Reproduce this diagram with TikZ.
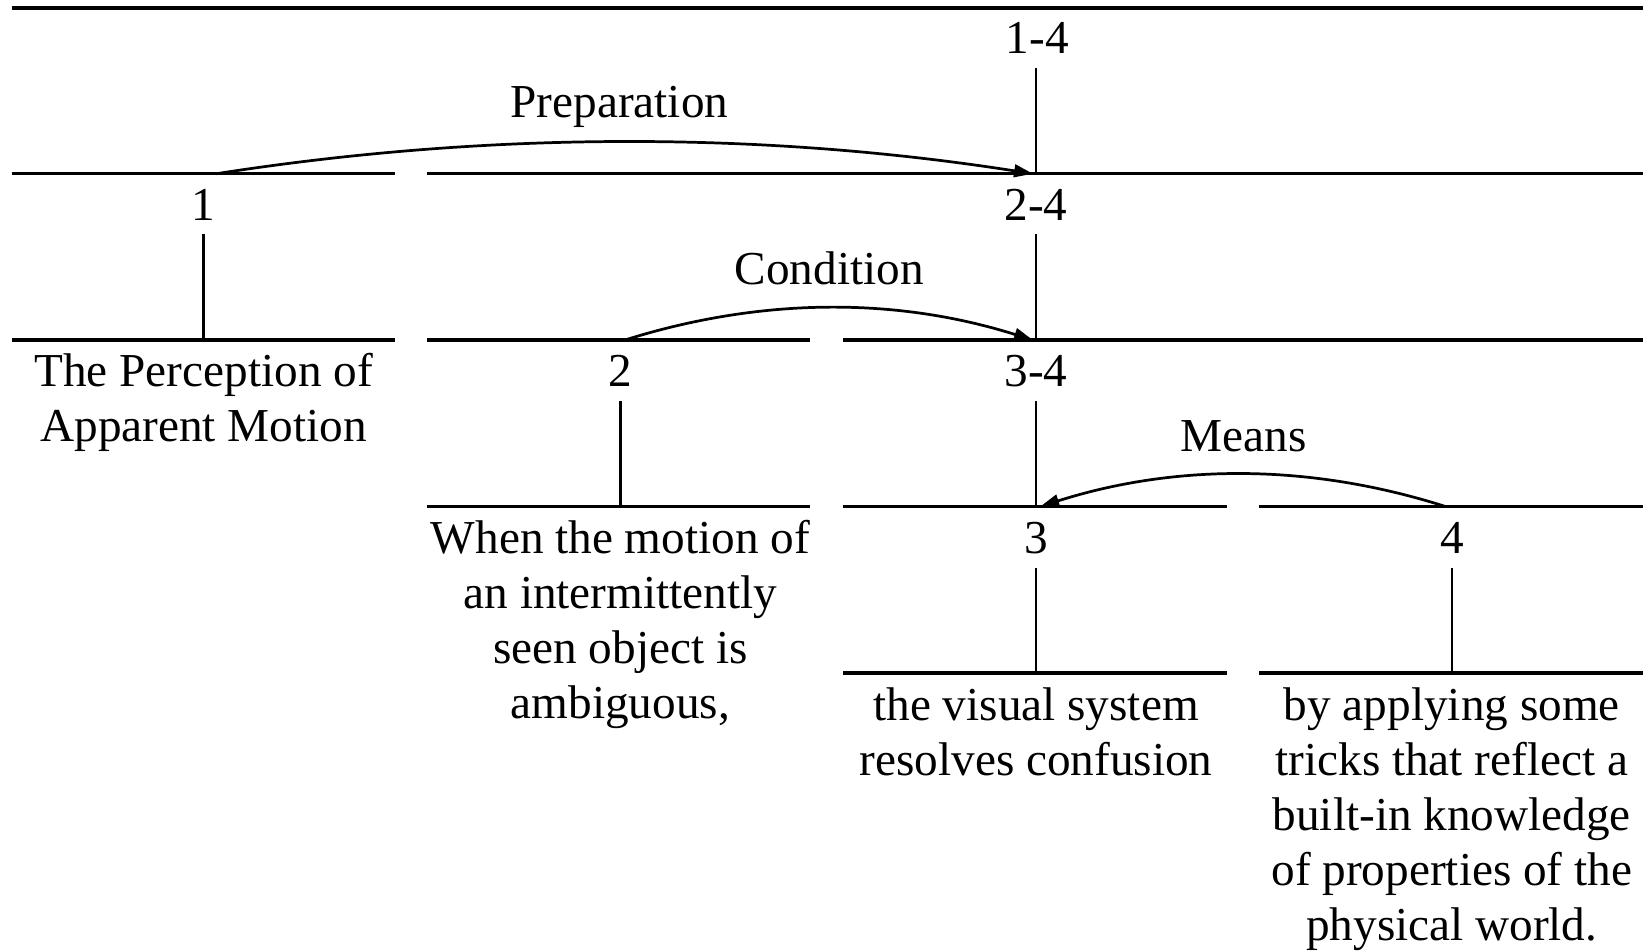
\documentclass[tikz,border=0pt]{standalone}
\usepackage{fontspec}
\setmainfont{Liberation Serif}
\usetikzlibrary{arrows.meta,calc}
\newcommand{\mlines}[1]{\begin{tabular}[t]{@{}c@{}}#1\end{tabular}}
\begin{document}
\begin{tikzpicture}[x=0.5pt,y=-0.5pt,
  seg/.style={line width=1.6pt},
  topseg/.style={line width=2pt},
  stem/.style={line width=1.25pt},
  rel/.style={line width=1.3pt,-{Triangle[length=9pt,width=6pt]}},
  lbl/.style={anchor=base,inner sep=0pt,font=\fontsize{22.5pt}{26.2pt}\selectfont},
]
\useasboundingbox (0,0) rectangle (1568,906);
% rows
\coordinate (r1) at (0,165.5);
\coordinate (r2) at (0,324);
\coordinate (r3) at (0,482.5);
\coordinate (r4) at (0,641);
% top rule
\draw[topseg] (11,7.6) -- (1565,7.6);
% row 1
\draw[seg] (11,165.5) -- (376,165.5);
\draw[seg] (407,165.5) -- (1565,165.5);
% row 2
\draw[seg] (11,324) -- (376,324);
\draw[seg] (407,324) -- (772,324);
\draw[seg] (803,324) -- (1565,324);
% row 3
\draw[seg] (407,482.5) -- (772,482.5);
\draw[seg] (803,482.5) -- (1168.5,482.5);
\draw[seg] (1199.5,482.5) -- (1565,482.5);
% row 4
\draw[seg] (803,641) -- (1168.5,641);
\draw[seg] (1199.5,641) -- (1565,641);
% labels
\node[lbl] (n14) at (988,50.8) {1-4};
\node[lbl] (prep) at (590,111.8) {Preparation};
\node[lbl] (n1) at (194,209.6) {1};
\node[lbl] (n24) at (987,209.6) {2-4};
\node[lbl] (cond) at (790,270.6) {Condition};
\node[lbl] (t1) at (194,368.4) {\mlines{The Perception of\\Apparent Motion}};
\node[lbl] (n2) at (591,368.4) {2};
\node[lbl] (n34) at (987,368.4) {3-4};
\node[lbl] (means) at (1185,429.7) {Means};
\node[lbl] (t2) at (591,527.5) {\mlines{When the motion of\\an intermittently\\seen object is\\ambiguous,}};
\node[lbl] (n3) at (987,527.5) {3};
\node[lbl] (n4) at (1383,527.5) {4};
\node[lbl] (t3) at (987,686) {\mlines{the visual system\\resolves confusion}};
\node[lbl] (t4) at (1383,686) {\mlines{by applying some\\tricks that reflect a\\built-in knowledge\\of properties of the\\physical world.}};
% stems
\draw[stem] ($(987,50.8)+(0,13.7)$) -- (987,165.5);
\draw[stem] ($(n1.base)+(0,13.7)$) -- (n1.base |- r2);
\draw[stem] ($(n24.base)+(0,13.7)$) -- (n24.base |- r2);
\draw[stem] ($(n2.base)+(0,13.7)$) -- (n2.base |- r3);
\draw[stem] ($(n34.base)+(0,13.7)$) -- (n34.base |- r3);
\draw[stem] ($(n3.base)+(0,13.7)$) -- (n3.base |- r4);
\draw[stem] ($(n4.base)+(0,13.7)$) -- (n4.base |- r4);
% relations
\coordinate (p1s) at (206,165.5);
\coordinate (p1e) at (984,165.5);
\coordinate (p2s) at (595,324);
\coordinate (p2e) at (984,324);
\coordinate (p3s) at (1377,482.5);
\coordinate (p3e) at (991,482.5);
\draw[rel] (p1s) .. controls +(259,-40.5) and +(-259,-40.5) .. (p1e);
\draw[rel] (p2s) .. controls +(130,-41) and +(-130,-41) .. (p2e);
\draw[rel] (p3s) .. controls +(-129,-41) and +(129,-41) .. (p3e);
\end{tikzpicture}
\end{document}
